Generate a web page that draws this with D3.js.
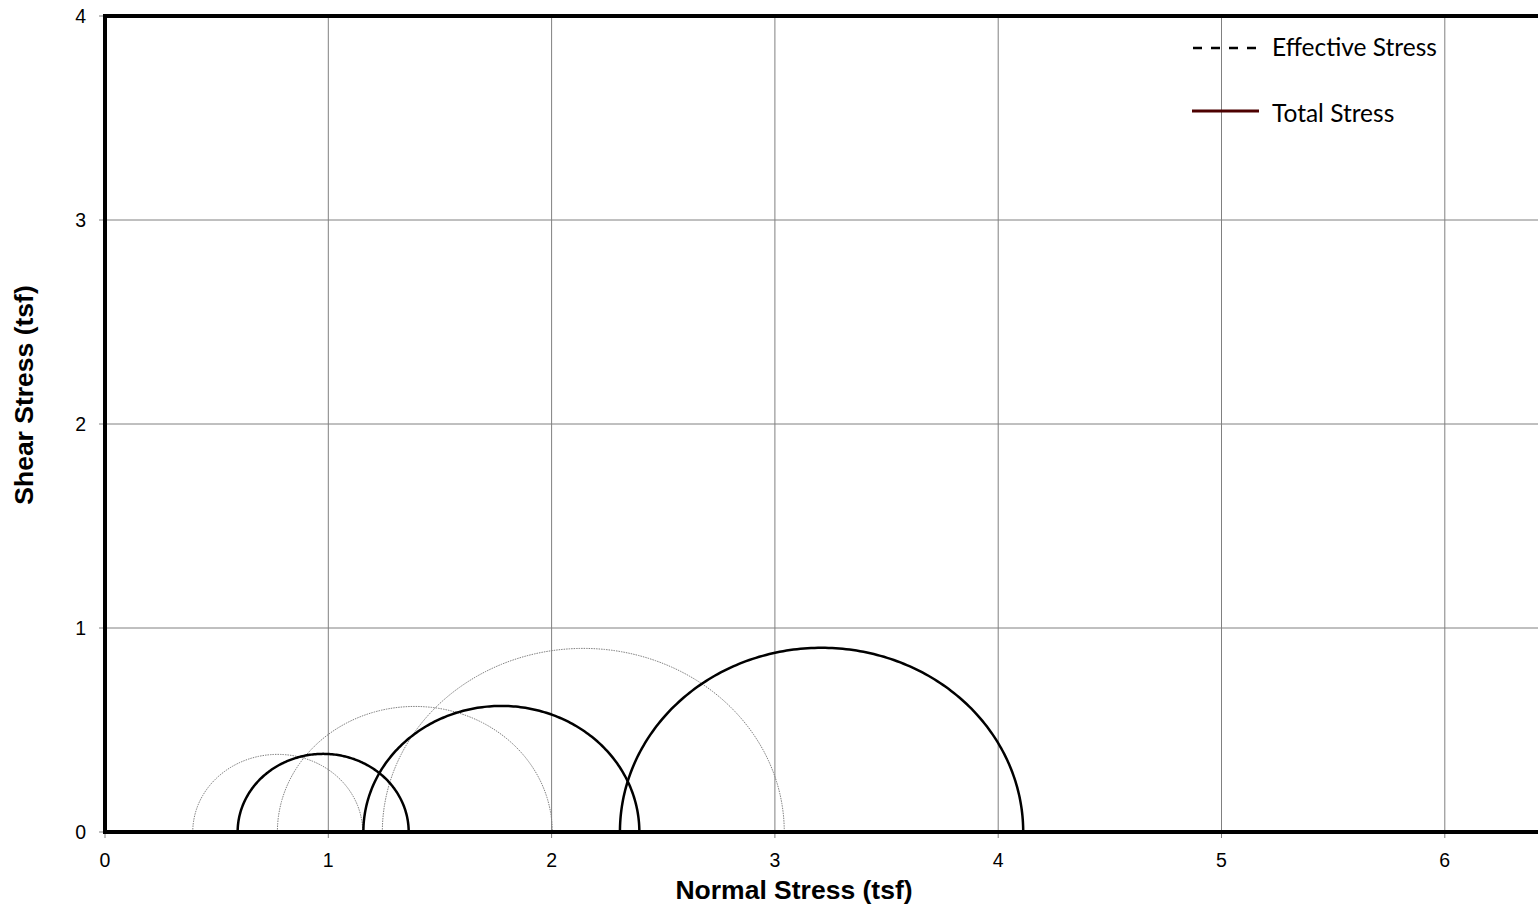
<!DOCTYPE html>
<html><head><meta charset="utf-8">
<script src="https://cdn.jsdelivr.net/npm/d3@7"></script>
<style>html,body{margin:0;padding:0;overflow:hidden;background:#fff;width:1538px;height:912px}</style>
</head><body>
<script>
// Data (tsf)
const effSigma3 = [0.393, 0.772, 1.242];
const effSigma1 = [1.154, 2.003, 3.042];
const totSigma3 = [0.594, 1.157, 2.306];
const totSigma1 = [1.360, 2.393, 4.112];
const xTicks = [0, 1, 2, 3, 4, 5, 6, 7];
const yTicks = [0, 1, 2, 3, 4];
const legendLabels = ["Effective Stress", "Total Stress"];

const svg = d3.select("body").append("svg").attr("width", 1700).attr("height", 912);
const x = d3.scaleLinear().domain([0, 7]).range([105, 105 + 7 * 223.3]);
const y = d3.scaleLinear().domain([0, 4]).range([832, 16]);

// gridlines
svg.append("g").selectAll("line.vg").data(xTicks.slice(1)).join("line")
  .attr("x1", d => x(d)).attr("x2", d => x(d)).attr("y1", y(4)).attr("y2", y(0) + 6)
  .attr("stroke", "#808080").attr("stroke-width", 1);
svg.append("g").selectAll("line.hg").data(yTicks.slice(1)).join("line")
  .attr("x1", x(0) - 6).attr("x2", x(7)).attr("y1", d => y(d)).attr("y2", d => y(d))
  .attr("stroke", "#808080").attr("stroke-width", 1);
// tick marks at 0
svg.append("line").attr("x1", x(0)).attr("x2", x(0)).attr("y1", y(0)).attr("y2", y(0) + 6).attr("stroke", "#808080");
svg.append("line").attr("x1", x(0) - 6).attr("x2", x(0)).attr("y1", y(0)).attr("y2", y(0)).attr("stroke", "#808080");

// circles
function semi(s3, s1) {
  const c = (s3 + s1) / 2, r = (s1 - s3) / 2;
  const pts = d3.range(0, 181).map(a => {
    const t = Math.PI * a / 180;
    return [c - r * Math.cos(t), r * Math.sin(t)];
  });
  return d3.line().x(d => x(d[0])).y(d => y(d[1]))(pts);
}
svg.append("g").selectAll("path").data(effSigma3).join("path")
  .attr("d", (d, i) => semi(d, effSigma1[i]))
  .attr("fill", "none").attr("stroke", "#808080").attr("stroke-width", 1)
  .attr("stroke-dasharray", "1.5,1");
svg.append("g").selectAll("path").data(totSigma3).join("path")
  .attr("d", (d, i) => semi(d, totSigma1[i]))
  .attr("fill", "none").attr("stroke", "#000").attr("stroke-width", 2.5);

// frame (left, top, bottom)
svg.append("path")
  .attr("d", `M${x(7)},${y(4)}H${x(0)}V${y(0)}H${x(7)}`)
  .attr("fill", "none").attr("stroke", "#000").attr("stroke-width", 4);

// tick labels
svg.append("g").selectAll("text").data(xTicks.slice(0, 7)).join("text")
  .attr("x", d => x(d)).attr("y", 867).attr("text-anchor", "middle")
  .attr("font-family", "Liberation Sans, Arial, sans-serif").attr("font-size", 19.5)
  .text(d => d);
svg.append("g").selectAll("text").data(yTicks).join("text")
  .attr("x", 86).attr("y", d => y(d) + 7).attr("text-anchor", "end")
  .attr("font-family", "Liberation Sans, Arial, sans-serif").attr("font-size", 19.5)
  .text(d => d);

// axis titles
svg.append("text").attr("x", 794).attr("y", 899).attr("text-anchor", "middle")
  .attr("font-family", "Liberation Sans, Arial, sans-serif").attr("font-weight", "bold").attr("font-size", 26.5)
  .text("Normal Stress (tsf)");
svg.append("text").attr("transform", "translate(33,395) rotate(-90)").attr("text-anchor", "middle")
  .attr("font-family", "Liberation Sans, Arial, sans-serif").attr("font-weight", "bold").attr("font-size", 26.5)
  .text("Shear Stress (tsf)");

// legend
const lg = svg.append("g");
lg.append("line").attr("x1", 1193).attr("x2", 1258).attr("y1", 48).attr("y2", 48)
  .attr("stroke", "#000").attr("stroke-width", 2.5).attr("stroke-dasharray", "9,9");
lg.append("line").attr("x1", 1192).attr("x2", 1259).attr("y1", 111).attr("y2", 111)
  .attr("stroke", "#4d0000").attr("stroke-width", 3);
lg.selectAll("text").data(legendLabels).join("text")
  .attr("x", 1272).attr("y", (d, i) => 56 + i * 66)
  .attr("font-family", "Lato, sans-serif").attr("font-size", 24.5)
  .text(d => d);
</script>
</body></html>
